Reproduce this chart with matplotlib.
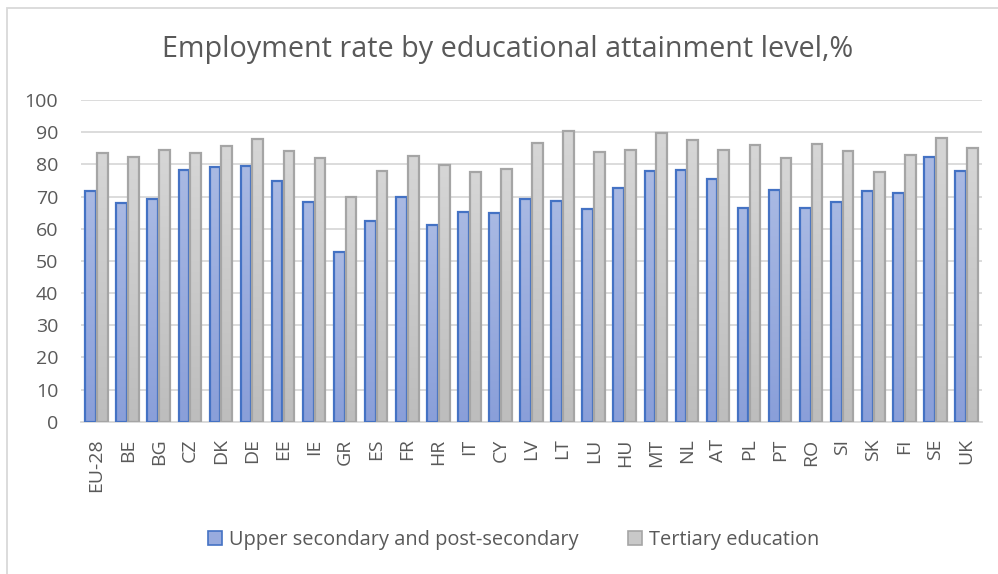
"""Grouped bar chart of employment rates by educational attainment, EU-28 and member states."""

import matplotlib.patches as mpatches
import matplotlib.pyplot as plt
import numpy as np

countries = [
    "EU-28", "BE", "BG", "CZ", "DK", "DE", "EE", "IE", "GR", "ES", "FR", "HR",
    "IT", "CY", "LV", "LT", "LU", "HU", "MT", "NL", "AT", "PL", "PT", "RO",
    "SI", "SK", "FI", "SE", "UK",
]
upper_secondary = [
    71.7, 67.9, 69.1, 78.1, 79.2, 79.4, 74.8, 68.4, 52.6, 62.4, 69.7, 61.2,
    65.2, 64.9, 69.2, 68.6, 66.0, 72.6, 78.0, 78.1, 75.3, 66.5, 72.1, 66.3,
    68.4, 71.6, 71.0, 82.3, 77.8,
]
tertiary = [
    83.5, 82.4, 84.4, 83.5, 85.7, 88.0, 84.1, 82.1, 69.7, 78.0, 82.6, 79.8,
    77.6, 78.4, 86.6, 90.5, 83.9, 84.6, 89.6, 87.7, 84.5, 85.9, 82.0, 86.4,
    84.1, 77.5, 83.0, 88.3, 85.2,
]
series_labels = ["Upper secondary and post-secondary", "Tertiary education"]
title = "Employment rate by educational attainment level,%"

TEXT = "#595959"
GRID = "#d9d9d9"
FONT = ["Open Sans", "DejaVu Sans"]


def gradient_bars(ax, xs, heights, width, top_rgb, bottom_rgb, edge):
    """Bars filled with a vertical gradient, light at the top, darker at the base."""
    grad = np.linspace(0, 1, 64)[:, None, None]
    img = np.array(top_rgb)[None, None, :] * (1 - grad) + np.array(bottom_rgb)[None, None, :] * grad
    bars = ax.bar(xs, heights, width, facecolor="none", edgecolor=edge, linewidth=1.6, zorder=3)
    for rect in bars:
        x0, w, h = rect.get_x(), rect.get_width(), rect.get_height()
        im = ax.imshow(img, extent=[x0, x0 + w, 0, h], aspect="auto", origin="upper",
                       interpolation="bilinear", zorder=2)
        im.set_clip_path(rect)
    return bars


def hex_rgb(h):
    h = h.lstrip("#")
    return [int(h[i:i + 2], 16) / 255 for i in (0, 2, 4)]


def main():
    plt.rcParams["font.family"] = FONT
    fig = plt.figure(figsize=(9.98, 5.74), dpi=100)
    ax = fig.add_axes([0.0812, 0.2653, 0.9028, 0.5605])

    x = np.arange(len(countries))
    width = 0.345
    gradient_bars(ax, x - 0.19, upper_secondary, width, hex_rgb("#a9b9e3"), hex_rgb("#8a9fd9"), "#4472c4")
    gradient_bars(ax, x + 0.19, tertiary, width, hex_rgb("#d6d6d6"), hex_rgb("#bdbdbd"), "#a5a5a5")

    ax.set_xlim(-0.5, len(countries) - 0.5)
    ax.set_ylim(0, 100)
    ax.set_yticks(range(0, 101, 10))
    ax.set_xticks(x)
    ax.set_xticklabels(countries, rotation=90, fontsize=14, color=TEXT)
    ax.tick_params(axis="y", labelsize=14, labelcolor=TEXT, length=0, pad=16.5)
    ax.tick_params(axis="x", length=0, pad=12)
    ax.grid(axis="y", color=GRID, linewidth=1.3, zorder=0)
    ax.set_axisbelow(True)
    for side in ("top", "right", "left"):
        ax.spines[side].set_visible(False)
    ax.spines["bottom"].set_color(GRID)
    ax.spines["bottom"].set_linewidth(1.3)

    fig.text(0.509, 0.913, title, ha="center", va="center", fontsize=20.7, color=TEXT)

    handles = [
        mpatches.Patch(facecolor="#98abde", edgecolor="#4472c4", linewidth=1.2),
        mpatches.Patch(facecolor="#c9c9c9", edgecolor="#a5a5a5", linewidth=1.2),
    ]
    fig.legend(handles, series_labels, loc="center", bbox_to_anchor=(0.5145, 0.059), ncol=2,
               frameon=False, fontsize=14.4, labelcolor=TEXT, handlelength=0.7, handleheight=0.7,
               handletextpad=0.35, columnspacing=2.45)

    # chart area frame, clipped by the figure at the right and bottom
    fig.patches.append(mpatches.Rectangle((7 / 998, -0.1), 1.2, (574 - 8) / 574 + 0.1,
                                          transform=fig.transFigure, fill=False,
                                          edgecolor=GRID, linewidth=1.3))

    fig.savefig("out.png", dpi=100)


if __name__ == "__main__":
    main()
